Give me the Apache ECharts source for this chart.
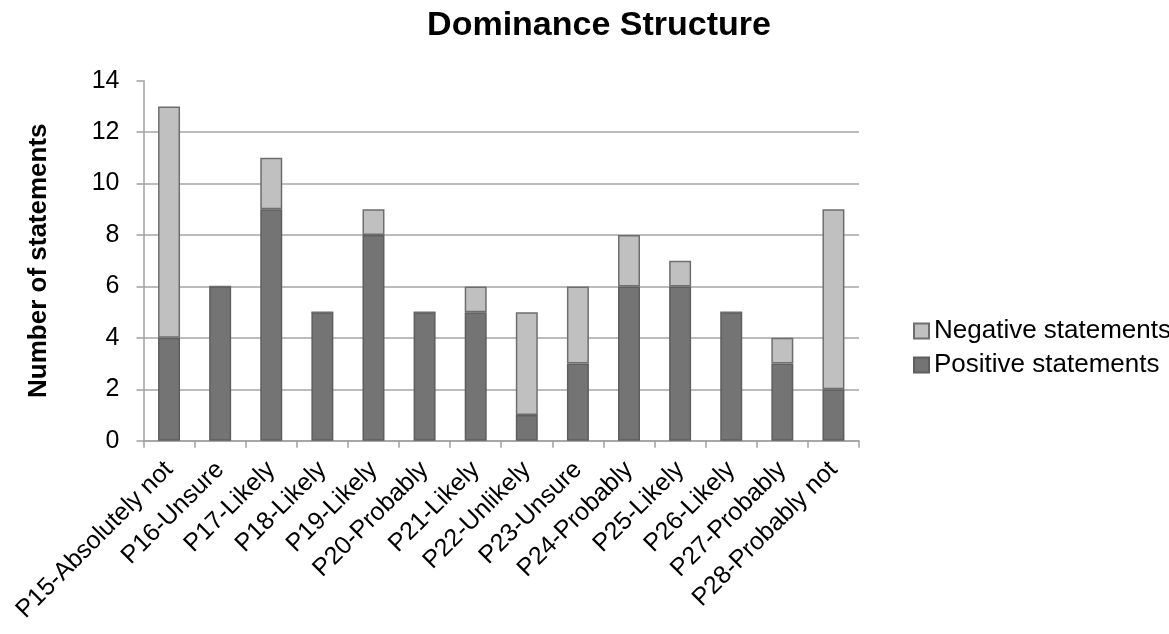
<!DOCTYPE html>
<html>
<head>
<meta charset="utf-8">
<script src="https://cdn.jsdelivr.net/npm/echarts@6/dist/echarts.min.js"></script>
<style>
  html, body { margin: 0; padding: 0; background: #fff; }
  #chart { width: 1169px; height: 634px; }
</style>
</head>
<body>
<div id="chart"></div>
<script>
// Participants and their answer
const categories = [
  'P15-Absolutely not', 'P16-Unsure', 'P17-Likely', 'P18-Likely', 'P19-Likely',
  'P20-Probably', 'P21-Likely', 'P22-Unlikely', 'P23-Unsure', 'P24-Probably',
  'P25-Likely', 'P26-Likely', 'P27-Probably', 'P28-Probably not'
];
// Statement counts per participant
const positiveStatements = [4, 6, 9, 5, 8, 5, 5, 1, 3, 6, 6, 5, 3, 2];
const negativeStatements = [9, 0, 2, 0, 1, 0, 1, 4, 3, 2, 1, 0, 1, 7];
// Y axis ticks
const yTicks = [0, 2, 4, 6, 8, 10, 12, 14];

const FONT = '"Liberation Sans", Arial, sans-serif';
const chart = echarts.init(document.getElementById('chart'), null, { renderer: 'canvas' });

chart.setOption({
  animation: false,
  backgroundColor: '#ffffff',
  title: {
    text: 'Dominance Structure',
    left: 594,
    textAlign: 'center',
    top: 4,
    textStyle: { fontFamily: FONT, fontWeight: 'bold', fontSize: 34, color: '#000' }
  },
  legend: {
    orient: 'vertical',
    left: 908,
    top: 313,
    icon: 'rect',
    itemWidth: 15,
    itemHeight: 15,
    itemGap: 8,
    data: ['Negative statements', 'Positive statements'],
    textStyle: { fontFamily: FONT, fontSize: 26, color: '#000' }
  },
  grid: { left: 143.5, right: 310, top: 80.7, bottom: 193.3, containLabel: false },
  xAxis: {
    type: 'category',
    data: categories,
    boundaryGap: true,
    axisLine: { show: true, lineStyle: { color: '#a0a0a0', width: 1.5 } },
    axisTick: { show: true, alignWithLabel: false, length: 7, lineStyle: { color: '#a0a0a0', width: 1.5 } },
    axisLabel: {
      rotate: 45, interval: 0, margin: 25,
      fontFamily: FONT, fontSize: 25, color: '#000'
    }
  },
  yAxis: {
    type: 'value',
    min: yTicks[0],
    max: yTicks[yTicks.length - 1],
    interval: yTicks[1] - yTicks[0],
    name: 'Number of statements',
    nameLocation: 'middle',
    nameGap: 92,
    nameRotate: 90,
    nameTextStyle: { fontFamily: FONT, fontWeight: 'bold', fontSize: 26, color: '#000' },
    axisLine: { show: true, lineStyle: { color: '#a0a0a0', width: 1.5 } },
    axisTick: { show: true, length: 7, lineStyle: { color: '#a0a0a0', width: 1.5 } },
    axisLabel: { margin: 24, fontFamily: FONT, fontSize: 25, color: '#000' },
    splitLine: { show: true, showMaxLine: false, lineStyle: { color: '#a6a6a6', width: 1.5 } }
  },
  series: [
    {
      name: 'Positive statements',
      type: 'bar',
      stack: 'total',
      barWidth: '43%',
      data: positiveStatements,
      itemStyle: { color: '#747474', borderColor: '#5e5e5e', borderWidth: 1.5 }
    },
    {
      name: 'Negative statements',
      type: 'bar',
      stack: 'total',
      barWidth: '43%',
      data: negativeStatements,
      itemStyle: { color: '#c0c0c0', borderColor: '#6e6e6e', borderWidth: 1.5 }
    }
  ]
});
</script>
</body>
</html>
